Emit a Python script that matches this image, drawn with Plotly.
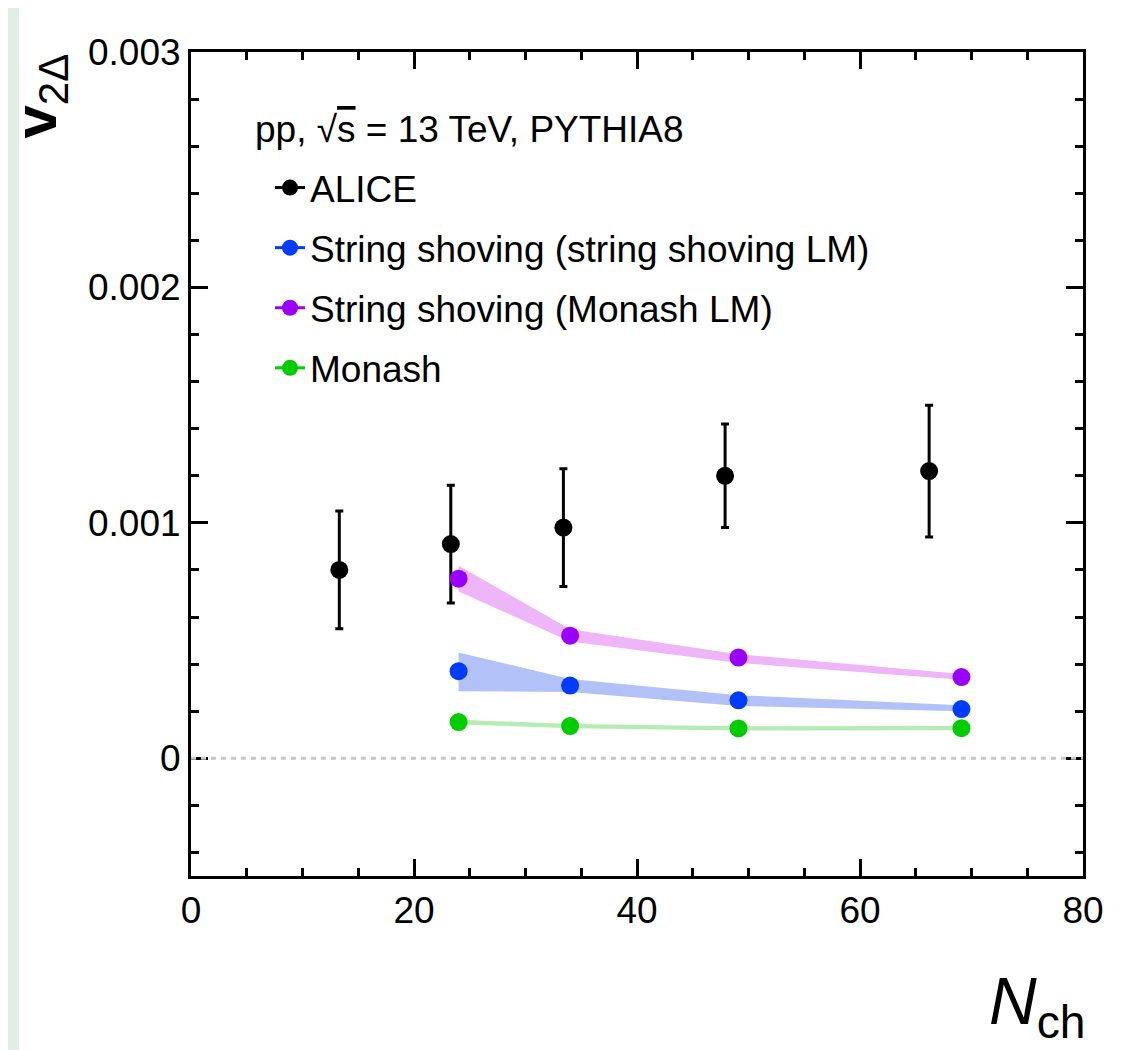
import plotly.graph_objects as go

# ---------------- data ----------------
alice_x = [13.3, 23.3, 33.4, 47.9, 66.2]
alice_y = [0.00080, 0.00091, 0.00098, 0.00120, 0.00122]
alice_err = [0.00025, 0.00025, 0.00025, 0.00022, 0.00028]

model_x = [24.0, 34.0, 49.1, 69.1]

ss_lm_y = [0.000370, 0.000309, 0.000246, 0.000209]
ss_lm_hi = [0.000449, 0.000337, 0.000268, 0.000225]
ss_lm_lo = [0.000285, 0.000282, 0.000222, 0.000200]

monash_lm_y = [0.000763, 0.000521, 0.000428, 0.000345]
monash_lm_hi = [0.000818, 0.000548, 0.000442, 0.000358]
monash_lm_lo = [0.000708, 0.000496, 0.000405, 0.000334]

monash_y = [0.000154, 0.000137, 0.000127, 0.000128]
monash_hi = [0.000164, 0.000146, 0.000136, 0.000137]
monash_lo = [0.000144, 0.000128, 0.000118, 0.000119]

x_tickvals = [0, 20, 40, 60, 80]
y_tickvals = [0, 0.001, 0.002, 0.003]
y_ticktext = ["0", "0.001", "0.002", "0.003"]

legend_names = ["ALICE", "String shoving (string shoving LM)",
                "String shoving (Monash LM)", "Monash"]

# ---------------- styles ----------------
FONT = "Liberation Sans, Arial, Helvetica, sans-serif"
C_ALICE = "#000000"
C_BLUE = "#003cff"
C_PURPLE = "#9900ff"
C_GREEN = "#00cc00"
F_BLUE = "rgba(178,193,248,1)"
F_PURPLE = "rgba(239,181,249,1)"
F_GREEN = "rgba(180,236,180,1)"
MS = 18
FS = 37

fig = go.Figure()

# ALICE data with error bars
fig.add_trace(go.Scatter(
    x=alice_x, y=alice_y, mode="markers",
    marker=dict(color=C_ALICE, size=MS),
    error_y=dict(type="data", array=alice_err, color=C_ALICE,
                 thickness=3, width=4),
    showlegend=False))

# model bands + markers
models = [
    (ss_lm_y, ss_lm_hi, ss_lm_lo, C_BLUE, F_BLUE),
    (monash_lm_y, monash_lm_hi, monash_lm_lo, C_PURPLE, F_PURPLE),
    (monash_y, monash_hi, monash_lo, C_GREEN, F_GREEN),
]
for yv, hi, lo, c, f in models:
    fig.add_trace(go.Scatter(x=model_x, y=hi, mode="lines",
                             line=dict(width=0, color=f),
                             showlegend=False, hoverinfo="skip"))
    fig.add_trace(go.Scatter(x=model_x, y=lo, mode="lines",
                             line=dict(width=0, color=f), fill="tonexty",
                             fillcolor=f, showlegend=False, hoverinfo="skip"))
for yv, hi, lo, c, f in models:
    fig.add_trace(go.Scatter(x=model_x, y=yv, mode="markers",
                             marker=dict(color=c, size=MS),
                             showlegend=False))

# legend entries
for name, c in zip(legend_names, [C_ALICE, C_BLUE, C_PURPLE, C_GREEN]):
    fig.add_trace(go.Scatter(x=[None], y=[None], mode="lines+markers",
                             name=name, legendgroup=name,
                             line=dict(color=c, width=3),
                             marker=dict(color=c, size=MS)))

# page offset of 8px (body margin) is compensated in the margins
W, H = 1117, 1042
L, R, T, B = 183, 42, 44, 174
PX0, PX1, PY0, PY1 = 191, 1083, 52, 876  # plot area in page pixels


def px(xp):
    return (xp - PX0) / (PX1 - PX0)


def py(yp):
    return (PY1 - yp) / (PY1 - PY0)


shapes = [
    dict(type="rect", xref="paper", yref="paper", layer="below",
         x0=px(19), x1=px(1118), y0=py(1070), y1=py(4),
         fillcolor="white", line=dict(width=0)),
    dict(type="rect", xref="paper", yref="paper", layer="below",
         x0=px(1117), x1=px(1135), y0=py(1070), y1=py(-5),
         fillcolor="#9a9ca0", line=dict(width=0)),
    dict(type="line", xref="paper", yref="y", x0=0, x1=1, y0=0, y1=0,
         line=dict(color="#c8c8c8", width=3, dash="5px,5px")),
]

fig.update_layout(
    width=W, height=H,
    margin=dict(l=L, r=R, t=T, b=B, pad=0),
    paper_bgcolor="#e2eee4",
    plot_bgcolor="white",
    font=dict(family=FONT, size=FS, color="black"),
    shapes=shapes,
    showlegend=True,
    legend=dict(
        x=px(270), y=py(157), xanchor="left", yanchor="top",
        bgcolor="rgba(0,0,0,0)", borderwidth=0,
        font=dict(family=FONT, size=FS, color="black"),
        tracegroupgap=9, traceorder="grouped",
    ),
    annotations=[
        dict(text="pp, √<span style='text-decoration:overline'>s</span> = 13 TeV, PYTHIA8",
             xref="paper", yref="paper", x=px(253), y=py(130),
             xanchor="left", yanchor="middle", showarrow=False,
             font=dict(family=FONT, size=FS, color="black")),
        dict(text="<b>v</b><sub>2Δ</sub>", xref="paper", yref="paper",
             x=px(79), y=py(52), xanchor="right", yanchor="top",
             textangle=-90, showarrow=False,
             font=dict(family=FONT, size=60, color="black")),
        dict(text="<i>N</i><sub>ch</sub>", xref="paper", yref="paper",
             x=px(1087), y=py(962), xanchor="right", yanchor="top",
             showarrow=False,
             font=dict(family=FONT, size=66, color="black")),
    ],
)

fig.update_xaxes(
    range=[0, 80], tickmode="array", tickvals=x_tickvals,
    showline=True, linecolor="black", linewidth=3, mirror="ticks",
    ticks="inside", ticklen=17, tickwidth=3, tickcolor="black",
    showgrid=False, zeroline=False,
    tickfont=dict(family=FONT, size=FS, color="black"),
    minor=dict(tickmode="linear", tick0=0, dtick=5, ticks="inside",
               ticklen=8, tickwidth=3, tickcolor="black", showgrid=False),
)
fig.update_yaxes(
    range=[-0.0005, 0.003], tickmode="array", tickvals=y_tickvals,
    ticktext=y_ticktext,
    showline=True, linecolor="black", linewidth=3, mirror="ticks",
    ticks="inside", ticklen=17, tickwidth=3, tickcolor="black",
    showgrid=False, zeroline=False,
    tickfont=dict(family=FONT, size=FS, color="black"),
    minor=dict(tickmode="linear", tick0=0, dtick=0.0002, ticks="inside",
               ticklen=8, tickwidth=3, tickcolor="black", showgrid=False),
)

fig.write_html("out.html")
